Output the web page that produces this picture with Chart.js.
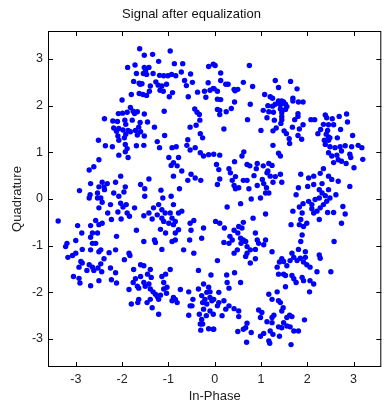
<!DOCTYPE html>
<html>
<head>
<meta charset="utf-8">
<title>Signal after equalization</title>
<script src="https://cdn.jsdelivr.net/npm/chart.js@4.4.1/dist/chart.umd.min.js"></script>
<style>
  html, body { margin: 0; padding: 0; background: #fff; }
  canvas { display: block; }
</style>
</head>
<body>
<canvas id="scatterGraph" width="384" height="407"></canvas>
<script>
// received symbols after the equalizer
var inPhase = [
  -1.62,-1.52,-1.34,-0.96,-1.21,-0.87,-0.69,-1.88,-1.72,-1.52,
  -1.42,-1.69,-1.54,-1.47,-1.33,-1.49,-1.19,-1.10,-1.01,-0.93,
  -0.84,-0.72,-0.52,-1.75,-1.63,-1.57,-1.61,-1.39,-1.27,-1.22,
  -1.14,-1.04,-0.65,-0.48,-0.13,-0.03,-0.61,-1.18,-1.11,-1.41,
  -1.55,-1.47,-1.80,-1.63,-0.98,-0.91,-0.37,-0.22,-0.14,-0.10,
  -0.03,-0.19,-0.57,-2.00,-1.82,-1.76,-2.08,-1.99,-1.89,-1.67,
  -1.73,-1.52,-1.09,-0.43,-0.38,-0.33,-0.32,-0.40,-0.53,-2.38,
  -2.20,-2.10,-1.94,-1.78,-1.61,-1.45,-1.92,-1.64,-2.18,-2.07,
  -2.12,-1.98,-1.87,-1.82,-1.71,-1.60,-1.30,-2.09,-1.92,-1.67,
  -1.52,-2.51,-2.07,-1.95,-1.24,-1.08,-0.58,-0.26,-0.31,

  0.01,0.13,0.13,0.29,0.24,0.62,0.75,0.82,-0.01,0.06,
  0.42,0.50,0.44,0.06,0.13,0.43,0.77,0.06,0.11,0.11,
  0.25,0.36,0.71,0.20,1.31,1.38,1.64,1.78,1.08,1.20,
  1.25,1.38,1.45,1.49,1.42,1.31,1.53,1.56,1.69,1.69,
  1.81,1.91,1.15,1.25,1.05,1.17,1.27,1.42,1.45,1.45,
  1.45,1.53,1.80,1.80,1.73,1.13,1.29,1.43,1.50,1.68,
  1.83,1.91,1.00,1.26,1.33,1.55,1.61,1.88,1.80,2.08,
  2.16,2.39,2.42,2.54,2.69,2.85,2.87,2.35,2.46,2.57,
  2.29,2.44,2.72,2.23,2.41,2.46,2.49,2.65,2.98,2.37,
  2.46,

  -2.36,-2.21,-1.93,-1.89,-1.69,-1.53,-1.19,-0.92,-0.83,-0.60,
  -0.42,-0.31,-0.13,-0.24,-0.53,-2.07,-1.93,-1.87,-0.99,-0.78,
  -0.89,-0.94,-0.81,-0.71,-0.89,-0.51,-0.42,-0.30,-0.58,-2.71,
  -2.61,-2.50,-2.68,-2.92,-2.69,-2.71,-2.53,-2.43,-2.50,-2.39,
  -2.32,-2.38,-2.46,-2.53,-2.43,-2.25,-2.50,-2.31,-2.09,-2.03,
  -2.14,-1.93,-1.96,-2.18,-2.07,-2.03,-1.91,-1.98,-1.89,-1.73,
  -1.60,-1.51,-1.51,-1.42,-1.16,-0.94,-0.76,-0.89,-1.12,-1.21,
  -1.32,-1.14,-1.07,-0.96,-0.92,-0.85,-0.78,-0.71,-1.24,-1.42,
  -1.53,-1.35,-1.14,-1.10,-0.99,-0.89,-0.78,-0.85,-1.06,-1.17,
  -0.53,-0.45,-0.51,-0.24,-1.69,-1.84,-2.02,-2.23,-3.38,-2.96,
  -2.87,-2.68,-2.57,-2.50,-2.43,-2.64,-2.68,-2.53,-3.00,-3.19,
  -3.22,-2.64,-2.57,-2.46,-2.50,-2.68,-2.86,-3.00,-2.12,-2.14,
  -1.85,-1.53,-1.28,-1.30,-1.14,-0.85,-0.92,-0.67,-0.54,-0.28,
  -0.45,-2.28,

  1.26,1.62,2.39,2.49,2.60,2.71,2.82,2.96,3.10,3.18,
  2.46,2.53,2.64,2.74,2.92,2.94,2.67,2.74,2.84,3.01,
  3.20,2.57,-0.02,0.11,0.04,0.09,0.31,0.43,0.63,0.59,
  0.70,0.76,0.92,0.90,1.05,1.17,1.24,1.13,1.38,1.42,
  1.42,1.31,1.20,1.15,1.45,1.26,1.06,1.12,1.10,1.17,
  0.99,0.92,1.03,0.85,0.70,0.62,0.45,0.38,0.34,0.11,
  0.06,0.42,0.45,0.52,0.74,0.56,0.27,0.79,0.62,0.83,
  1.10,1.86,2.03,2.14,2.28,2.35,2.46,2.53,2.67,2.92,
  2.32,2.26,2.14,2.01,1.81,1.76,1.91,1.83,1.69,2.03,
  2.10,2.17,2.26,2.32,2.39,2.46,2.49,2.62,2.42,2.35,
  2.28,2.21,2.10,2.14,2.26,2.44,2.57,2.77,2.82,2.74,
  2.58,1.89,1.86,1.83,1.92,1.99,1.65,1.89,1.86,1.81,
  1.96,1.67,2.26,0.02,0.11,0.21,0.33,0.38,0.31,0.20,
  0.42,0.50,0.56,0.62,0.57,0.67,0.70,0.77,0.88,0.92,
  0.95,1.10,1.06,0.49,0.42,0.70,0.88,1.24,0.59,0.52,

  -3.17,-3.07,-2.89,-2.86,-2.93,-2.76,-2.71,-2.64,-2.61,-2.52,
  -2.46,-2.44,-2.39,-2.25,-2.14,-1.95,-1.83,-3.05,-2.93,-2.91,
  -2.68,-2.50,-2.23,-2.12,-1.75,-1.60,-1.53,-1.39,-1.45,-1.37,
  -1.60,-1.71,-1.76,-1.67,-1.64,-1.53,-1.50,-1.42,-1.39,-1.33,
  -1.28,-1.24,-1.17,-1.10,-1.10,-1.14,-1.06,-0.96,-1.03,-1.21,
  -1.39,-1.46,-1.64,-1.66,-1.80,-1.85,-1.21,-1.35,-1.04,-0.89,
  -0.85,-0.74,-0.92,-0.81,-0.56,-0.47,-0.53,-0.49,-0.56,-0.35,
  -0.35,-0.24,-0.13,-0.17,-0.10,-0.28,-0.21,-0.10,-0.26,-0.17,
  -0.24,-0.33,-0.28,-0.18,-0.10,-0.31,-0.26,-0.30,-0.13,-0.03,
  -0.03,-0.08,-0.06,

  0.06,0.67,0.77,0.88,1.35,1.40,1.45,1.49,1.56,1.63,
  1.71,1.78,1.85,1.92,1.99,2.06,1.96,2.28,1.38,1.49,
  1.53,1.67,1.71,1.76,1.89,1.92,2.06,2.14,2.21,2.51,
  1.53,2.05,0.26,0.43,0.56,0.27,0.31,0.09,-0.02,0.09,
  0.20,0.31,0.06,0.24,0.16,0.42,0.52,0.52,-0.02,1.17,
  1.24,1.35,1.42,1.48,1.45,1.38,0.95,1.02,0.99,1.13,
  1.24,1.28,1.24,1.20,1.26,1.38,1.45,1.49,1.56,1.62,
  1.67,1.56,1.63,1.71,1.81,1.94,0.79,0.67,0.62,0.70,
  0.50,0.69,1.17,1.19,1.65,1.40,0.99,1.06
];

var quadrature = [
  3.22,3.08,3.10,3.17,2.95,2.90,2.90,2.82,2.87,2.82,
  2.82,2.69,2.69,2.67,2.69,2.75,2.65,2.64,2.64,2.67,
  2.64,2.72,2.68,2.52,2.48,2.47,2.46,2.42,2.51,2.44,
  2.42,2.46,2.54,2.50,2.84,2.89,2.43,2.33,2.31,2.31,
  2.24,2.22,2.24,2.26,2.19,2.28,2.29,2.31,2.49,2.33,
  2.37,2.18,2.19,2.12,1.96,1.88,1.83,1.84,1.86,1.87,
  1.83,1.82,1.88,1.93,1.86,1.81,1.69,1.58,1.54,1.72,
  1.67,1.66,1.69,1.69,1.64,1.65,1.60,1.54,1.52,1.51,
  1.45,1.48,1.47,1.44,1.47,1.44,1.54,1.35,1.39,1.37,
  1.35,1.26,1.26,1.31,1.23,1.36,1.27,1.31,1.40,

  2.86,2.70,2.54,2.46,2.46,2.50,2.86,2.41,2.36,2.31,
  2.35,2.35,2.32,2.14,2.13,2.08,2.03,1.92,1.90,1.81,
  1.87,1.94,1.70,1.50,2.54,2.39,2.52,2.36,2.24,2.19,
  2.16,2.10,2.10,2.08,2.02,2.03,2.03,1.98,2.16,2.10,
  2.08,2.08,2.00,1.99,1.90,1.87,1.86,1.93,1.85,1.77,
  1.70,1.92,1.83,1.77,1.70,1.74,1.69,1.62,1.46,1.54,
  1.50,1.59,1.47,1.46,1.52,1.40,1.29,1.28,1.36,1.70,
  1.70,1.80,1.74,1.72,1.77,1.82,1.65,1.60,1.59,1.59,
  1.49,1.47,1.49,1.40,1.39,1.33,1.31,1.31,1.36,1.26,
  1.26,

  1.14,1.12,1.17,1.08,1.14,1.15,1.10,1.10,1.12,1.15,
  1.10,0.99,0.95,0.92,1.05,0.94,1.01,0.89,0.89,0.89,
  0.78,0.72,0.71,0.60,0.49,0.53,0.45,0.40,0.40,0.62,
  0.69,0.84,0.33,0.18,0.09,0.02,0.13,0.36,0.26,0.26,
  0.33,0.20,0.02,0.02,-0.07,-0.12,-0.19,-0.30,-0.28,0.49,
  0.36,0.26,0.15,0.13,0.06,-0.09,-0.12,-0.17,-0.30,-0.19,
  0.31,0.22,0.06,0.43,0.19,0.06,0.22,-0.12,0.02,-0.12,
  -0.19,-0.23,-0.30,-0.30,-0.41,-0.48,-0.30,-0.26,-0.34,-0.30,
  -0.36,-0.43,-0.41,-0.48,-0.52,-0.55,-0.66,-0.73,-0.73,-0.65,
  -0.52,-0.46,-0.67,-0.62,-0.67,-0.37,-0.43,-0.44,-0.47,-0.57,
  -0.73,-0.57,-0.46,-0.55,-0.52,-0.73,-0.82,-0.73,-0.89,-0.95,
  -1.02,-0.95,-0.95,-1.09,-1.13,-1.09,-1.08,-1.16,-0.80,-1.09,
  -1.16,-0.91,-0.93,-0.88,-1.08,-0.88,-0.91,-1.09,-0.88,-0.84,
  -1.16,-1.15,

  1.15,1.19,1.17,1.12,1.10,1.12,1.14,1.12,1.15,1.10,
  0.99,0.92,0.94,1.03,0.96,0.89,0.84,0.81,0.76,0.67,
  0.85,0.78,0.96,0.94,0.74,0.63,0.65,0.80,1.01,0.92,
  0.74,0.71,0.76,0.65,0.71,0.76,0.72,0.56,0.98,0.92,
  0.53,0.48,0.49,0.60,0.36,0.36,0.33,0.24,0.13,0.13,
  0.02,0.29,0.42,0.50,0.40,0.40,0.48,0.40,0.56,0.43,
  0.31,0.29,0.22,0.24,0.22,-0.10,-0.17,0.00,-0.50,-0.41,
  -0.32,0.53,0.45,0.49,0.55,0.65,0.49,0.42,0.38,0.27,
  0.33,0.20,0.31,0.27,0.24,0.09,-0.10,-0.17,-0.26,-0.05,
  -0.12,-0.01,0.02,0.13,0.07,0.20,0.02,0.09,-0.05,-0.12,
  -0.19,-0.26,-0.21,-0.30,-0.44,-0.29,-0.29,-0.16,-0.32,-0.52,
  -0.91,-0.30,-0.44,-0.55,-0.59,-0.52,-0.55,-0.77,-0.91,-1.08,
  -1.13,-1.16,-1.20,-0.48,-0.52,-0.62,-0.80,-0.88,-0.95,-0.93,
  -0.67,-0.73,-0.84,-0.88,-0.95,-0.91,-1.02,-1.09,-0.73,-0.88,
  -0.95,-0.88,-0.98,-1.09,-1.16,-1.16,-1.08,-1.13,-0.62,-0.59,

  -1.25,-1.21,-1.34,-1.37,-1.46,-1.53,-1.41,-1.46,-1.53,-1.48,
  -1.39,-1.56,-1.28,-1.48,-1.58,-1.30,-1.21,-1.66,-1.70,-1.80,
  -1.86,-1.75,-1.73,-1.80,-1.51,-1.41,-1.43,-1.51,-1.61,-1.68,
  -1.66,-1.71,-1.79,-1.87,-1.91,-1.79,-1.87,-1.82,-1.93,-1.99,
  -2.04,-2.09,-2.06,-1.93,-1.79,-1.66,-1.61,-1.51,-1.89,-2.15,
  -2.15,-2.22,-2.15,-2.22,-2.25,-1.94,-2.47,-2.33,-2.02,-2.11,
  -2.15,-1.94,-2.18,-2.22,-1.99,-2.15,-2.29,-2.29,-2.49,-1.53,
  -1.93,-1.82,-1.89,-2.00,-1.99,-2.07,-2.15,-2.11,-2.22,-2.25,
  -2.36,-2.47,-2.58,-2.50,-2.40,-2.68,-2.68,-2.81,-2.78,-2.79,
  -2.47,-1.63,-2.18,

  -1.32,-1.23,-1.37,-1.28,-1.46,-1.35,-1.28,-1.34,-1.43,-1.32,
  -1.25,-1.32,-1.27,-1.35,-1.41,-1.46,-1.25,-1.27,-1.61,-1.61,
  -1.64,-1.64,-1.71,-1.79,-1.68,-1.75,-1.75,-1.82,-1.56,-1.56,
  -1.88,-1.99,-1.63,-1.58,-1.79,-1.79,-1.91,-2.00,-2.15,-2.22,
  -2.18,-2.29,-2.29,-2.36,-2.50,-2.35,-2.40,-2.52,-2.79,-2.04,
  -2.15,-1.99,-2.22,-2.33,-2.40,-2.18,-2.38,-2.43,-2.54,-2.63,
  -2.54,-2.49,-2.65,-2.83,-2.90,-2.74,-2.76,-2.65,-2.54,-2.49,
  -2.52,-2.72,-2.74,-2.83,-2.83,-2.59,-2.86,-2.76,-2.79,-2.66,
  -2.84,-3.07,-3.04,-3.09,-3.12,-2.94,-2.94,-2.88
];

var xTicks = [-3, -2, -1, 0, 1, 2, 3];
var yTicks = [-3, -2, -1, 0, 1, 2, 3];

if (inPhase.length !== quadrature.length) console.log('length mismatch', inPhase.length, quadrature.length);

var scatterData = [];
for (var i = 0; i < inPhase.length; i++) {
    scatterData.push({x: inPhase[i], y: quadrature[i]});
}

// matlab style box with inward ticks on all four sides
var boxPlugin = {
    id: 'boxPlugin',
    afterDraw: function(chart) {
        var ctx = chart.ctx, a = chart.chartArea;
        var xs = chart.scales.x, ys = chart.scales.y;
        ctx.save();
        ctx.strokeStyle = '#000';
        ctx.lineWidth = 1;
        ctx.strokeRect(a.left + 0.5, a.top + 0.5, a.right - a.left - 1, a.bottom - a.top - 1);
        ctx.beginPath();
        xTicks.forEach(function(v) {
            var px = Math.round(xs.getPixelForValue(v)) + 0.5;
            ctx.moveTo(px, a.bottom); ctx.lineTo(px, a.bottom - 5);
            ctx.moveTo(px, a.top); ctx.lineTo(px, a.top + 5);
        });
        yTicks.forEach(function(v) {
            var py = Math.round(ys.getPixelForValue(v)) + 0.5;
            ctx.moveTo(a.left, py); ctx.lineTo(a.left + 5, py);
            ctx.moveTo(a.right, py); ctx.lineTo(a.right - 5, py);
        });
        ctx.stroke();
        ctx.restore();
    }
};

var fontFam = "'Liberation Sans', Arial, sans-serif";

var scatterConfig = {
    type: 'scatter',
    data: {
        datasets: [{
            data: scatterData,
            backgroundColor: '#0000ff',
            borderColor: '#0000ff',
            borderWidth: 0,
            pointStyle: 'circle',
            pointRadius: 2.7,
            pointHoverRadius: 2.7
        }]
    },
    options: {
        responsive: false,
        animation: false,
        layout: { padding: { left: 0, right: 1, top: 0, bottom: 0 } },
        plugins: {
            legend: { display: false },
            tooltip: { enabled: false },
            title: {
                display: true,
                text: 'Signal after equalization',
                color: '#111',
                font: { family: fontFam, size: 13, weight: 'normal' },
                padding: { top: 7, bottom: 8.4 }
            }
        },
        scales: {
            x: {
                type: 'linear',
                min: -3.6,
                max: 3.6,
                afterFit: function(s) { s.height = 40; },
                afterBuildTicks: function(s) { s.ticks = xTicks.map(function(v) { return {value: v}; }); },
                grid: { display: false, drawTicks: false },
                border: { display: false },
                ticks: { color: '#222', padding: 5, maxRotation: 0, font: { family: fontFam, size: 12.5 } },
                title: {
                    display: true,
                    text: 'In-Phase',
                    color: '#222',
                    font: { family: fontFam, size: 13 },
                    padding: { top: 0, bottom: 3 }
                }
            },
            y: {
                type: 'linear',
                min: -3.6,
                max: 3.6,
                afterFit: function(s) { s.width = 48; },
                afterBuildTicks: function(s) { s.ticks = yTicks.map(function(v) { return {value: v}; }); },
                grid: { display: false, drawTicks: false },
                border: { display: false },
                ticks: { color: '#222', padding: 5, font: { family: fontFam, size: 12.5 } },
                title: {
                    display: true,
                    text: 'Quadrature',
                    color: '#222',
                    font: { family: fontFam, size: 13 },
                    padding: { top: 10, bottom: 0 }
                }
            }
        }
    },
    plugins: [boxPlugin]
};

var scatterCtx = document.getElementById('scatterGraph');
var scatterChart = new Chart(scatterCtx, scatterConfig);
</script>
</body>
</html>
